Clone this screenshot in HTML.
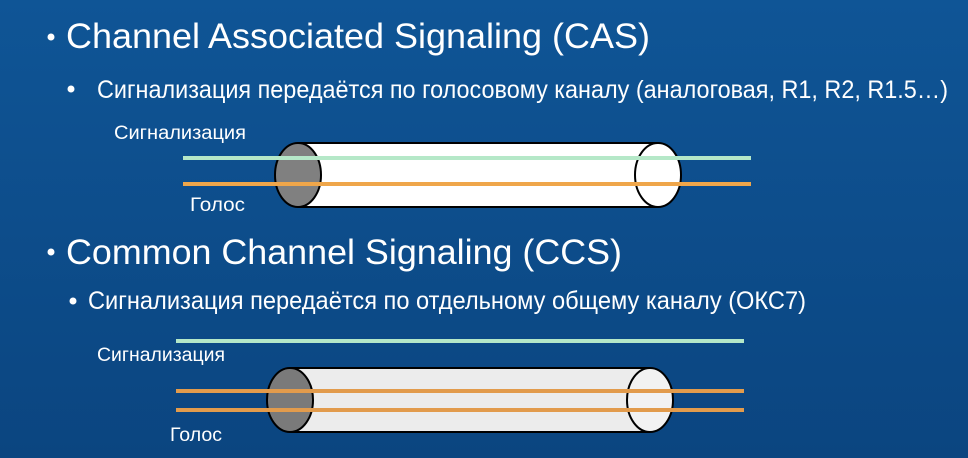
<!DOCTYPE html>
<html><head><meta charset="utf-8"><style>
html,body{margin:0;padding:0;width:968px;height:458px;overflow:hidden}
svg{display:block}
</style></head><body>
<svg width="968" height="458" xmlns="http://www.w3.org/2000/svg">
<defs>
<linearGradient id="bg" x1="0" y1="0" x2="0" y2="1">
<stop offset="0" stop-color="#0f5596"/><stop offset="1" stop-color="#0b4580"/>
</linearGradient>
</defs>
<rect width="968" height="458" fill="url(#bg)"/>
<g fill="#fff" font-family="Liberation Sans, sans-serif">
<circle cx="51" cy="37" r="3.5"/>
<text x="66" y="48" font-size="35" textLength="584" lengthAdjust="spacingAndGlyphs">Channel Associated Signaling (CAS)</text>
<circle cx="71" cy="89" r="3.5"/>
<text x="97" y="98" font-size="25" textLength="851" lengthAdjust="spacingAndGlyphs">Сигнализация передаётся по голосовому каналу (аналоговая, R1, R2, R1.5…)</text>
<text x="114" y="139" font-size="19" textLength="132" lengthAdjust="spacingAndGlyphs">Сигнализация</text>
<text x="190" y="211" font-size="19" textLength="55" lengthAdjust="spacingAndGlyphs">Голос</text>
<circle cx="51" cy="252" r="3.5"/>
<text x="66" y="264" font-size="35" textLength="556" lengthAdjust="spacingAndGlyphs">Common Channel Signaling (CCS)</text>
<circle cx="73" cy="301" r="3.5"/>
<text x="88" y="309" font-size="25" textLength="718" lengthAdjust="spacingAndGlyphs">Сигнализация передаётся по отдельному общему каналу (ОКС7)</text>
<text x="97" y="361" font-size="19" textLength="128" lengthAdjust="spacingAndGlyphs">Сигнализация</text>
<text x="170" y="441" font-size="19" textLength="52" lengthAdjust="spacingAndGlyphs">Голос</text>
</g>
<rect x="298" y="143" width="360" height="64" fill="#fff"/>
<line x1="298" y1="143" x2="658" y2="143" stroke="#000" stroke-width="2"/>
<line x1="298" y1="207" x2="658" y2="207" stroke="#000" stroke-width="2"/>
<ellipse cx="658" cy="175" rx="23" ry="32" fill="#fff" stroke="#000" stroke-width="2"/>
<ellipse cx="298" cy="175" rx="23" ry="32" fill="#808080" stroke="#000" stroke-width="2"/>
<line x1="183" y1="158" x2="751" y2="158" stroke="#b5e8c8" stroke-width="4"/>
<line x1="183" y1="184" x2="751" y2="184" stroke="#efa64a" stroke-width="4"/>
<rect x="290" y="368" width="360" height="64" fill="#ececec"/>
<line x1="290" y1="368" x2="650" y2="368" stroke="#000" stroke-width="2"/>
<line x1="290" y1="432" x2="650" y2="432" stroke="#000" stroke-width="2"/>
<ellipse cx="650" cy="400" rx="23" ry="32" fill="#f2f2f2" stroke="#000" stroke-width="2"/>
<ellipse cx="290" cy="400" rx="23" ry="32" fill="#7a7a7a" stroke="#000" stroke-width="2"/>
<line x1="176" y1="341" x2="744" y2="341" stroke="#b5e8c8" stroke-width="4"/>
<line x1="176" y1="391" x2="744" y2="391" stroke="#e29b4c" stroke-width="4"/>
<line x1="176" y1="410" x2="744" y2="410" stroke="#e29b4c" stroke-width="4"/>
</svg>
</body></html>
